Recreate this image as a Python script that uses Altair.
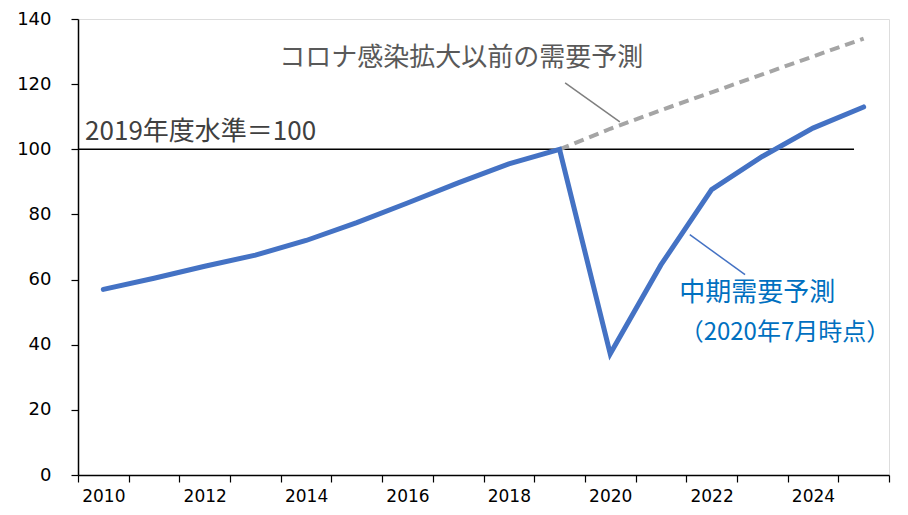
import altair as alt
import pandas as pd

# ---- data ----
years = list(range(2010, 2026))
mid_term_forecast = [57.0, 60.4, 64.1, 67.5, 72.0, 77.5, 83.5, 89.7, 95.5,
                     100.0, 37.2, 64.5, 87.6, 97.8, 106.5, 113.0]
pre_covid_years = list(range(2019, 2026))
pre_covid_forecast = [100.0, 106.3, 112.0, 117.5, 123.0, 128.5, 134.0]

y_ticks = [0, 20, 40, 60, 80, 100, 120, 140]
x_tick_positions = [y - 0.5 for y in range(2010, 2027)]

base_level = 100
base_label = "2019年度水準＝100"
pre_label = "コロナ感染拡大以前の需要予測"
mid_label_1 = "中期需要予測"
mid_label_2 = "（2020年7月時点）"

# ---- tables ----
mid_df = pd.DataFrame({"year": years, "value": mid_term_forecast})
pre_df = pd.DataFrame({"year": pre_covid_years, "value": pre_covid_forecast})
base_df = pd.DataFrame({"x": [2009.5], "x2": [2024.81], "y": [base_level]})
leader_df = pd.DataFrame({
    "x": [2019.11, 2021.57], "x2": [2020.19, 2022.66],
    "y": [120.4, 73.8], "y2": [108.4, 61.5],
    "c": ["#7F7F7F", "#4472C4"],
})
label_df = pd.DataFrame({
    "x": [2009.64, 2013.47, 2021.36, 2021.37],
    "y": [105.3, 128.0, 55.9, 43.6],
    "t": [base_label, pre_label, mid_label_1, mid_label_2],
    "c": ["#404040", "#595959", "#0070C0", "#0070C0"],
    "s": [26, 26, 26, 24],
})

xs = alt.Scale(domain=[2009.5, 2025.5], nice=False, zero=False)
ys = alt.Scale(domain=[0, 140], nice=False)

x_axis = alt.Axis(
    values=x_tick_positions,
    labelExpr="((datum.value + 0.5) % 2 === 0 && datum.value < 2025) ? '' + (datum.value + 0.5) : ''",
    labelOffset=25.35, labelOverlap=False, labelFlush=False, labelBound=False,
    grid=False, title=None, tickSize=7, tickColor="#000000", tickWidth=1.2,
    domainColor="#000000", domainWidth=1.5, labelColor="#000000",
    labelFont="DejaVu Sans", labelFontSize=17, labelPadding=6,
)
y_axis = alt.Axis(
    values=y_ticks, grid=False, title=None, tickSize=7, tickColor="#000000",
    tickWidth=1.2, domainColor="#000000", domainWidth=1.5, labelColor="#000000",
    labelFont="DejaVu Sans", labelFontSize=18, labelPadding=20,
)

base_rule = alt.Chart(base_df).mark_rule(color="#000000", strokeWidth=1.4).encode(
    x=alt.X("x:Q", scale=xs, axis=x_axis),
    x2="x2:Q",
    y=alt.Y("y:Q", scale=ys, axis=y_axis),
)

pre_line = alt.Chart(pre_df).mark_line(
    color="#A5A5A5", strokeWidth=4, strokeDash=[10, 6]
).encode(
    x=alt.X("year:Q", scale=xs),
    y=alt.Y("value:Q", scale=ys),
)

mid_line = alt.Chart(mid_df).mark_line(
    color="#4472C4", strokeWidth=5, strokeCap="round", strokeJoin="miter"
).encode(
    x=alt.X("year:Q", scale=xs),
    y=alt.Y("value:Q", scale=ys),
)

leaders = alt.Chart(leader_df).mark_rule(strokeWidth=1.5).encode(
    x=alt.X("x:Q", scale=xs), x2="x2:Q",
    y=alt.Y("y:Q", scale=ys), y2="y2:Q",
    color=alt.Color("c:N", scale=None),
)

labels = alt.Chart(label_df).mark_text(
    align="left", baseline="middle", font="Noto Sans CJK JP"
).encode(
    x=alt.X("x:Q", scale=xs),
    y=alt.Y("y:Q", scale=ys),
    text="t:N",
    color=alt.Color("c:N", scale=None),
    size=alt.Size("s:Q", scale=None),
)

chart = alt.layer(base_rule, pre_line, mid_line, leaders, labels).properties(
    width=811, height=456,
    autosize=alt.AutoSizeParams(type="none"),
    padding={"left": 70, "top": 11, "right": 3, "bottom": 32},
).configure_view(stroke=None).configure(background="#ffffff")

chart.save("out.html", embed_options={"renderer": "svg", "actions": False})
